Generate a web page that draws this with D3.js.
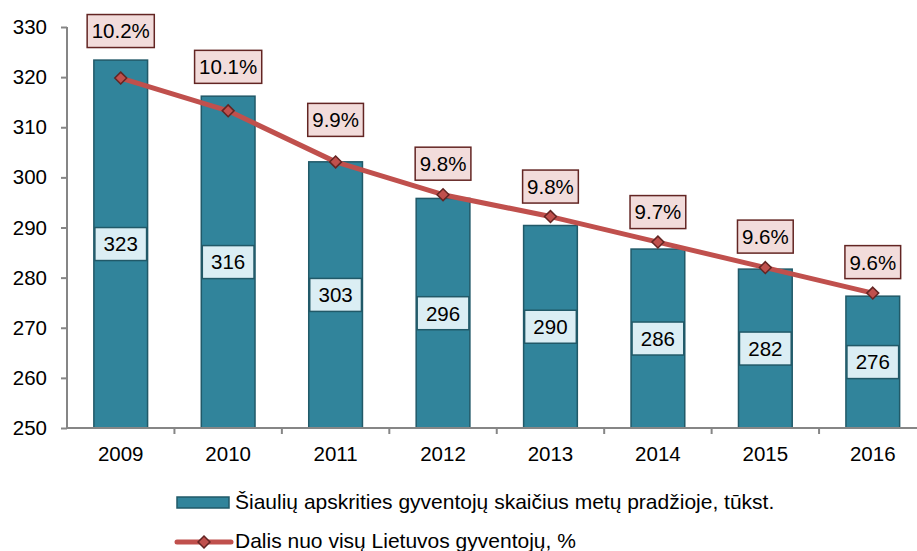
<!DOCTYPE html>
<html>
<head>
<meta charset="utf-8">
<script src="https://cdn.jsdelivr.net/npm/d3@7"></script>
<style>
	body { margin: 0; background: #fff; }
	svg { display: block; font-family: "Liberation Sans", Arial, sans-serif; }
</style>
</head>
<body>
<script>
var years = ["2009", "2010", "2011", "2012", "2013", "2014", "2015", "2016"];
var population = [323.4, 316.2, 303.1, 295.8, 290.4, 285.7, 281.7, 276.3];
var share = [10.16, 10.07, 9.93, 9.84, 9.78, 9.71, 9.64, 9.57];
var yTicks = [250, 260, 270, 280, 290, 300, 310, 320, 330];
var barLegend = "Šiaulių apskrities gyventojų skaičius metų pradžioje, tūkst.";
var lineLegend = "Dalis nuo visų Lietuvos gyventojų, %";

// how far above each point its % label sits (labels were nudged off the bars)
var labelLift = [47, 44, 42, 31, 30, 30, 31, 31];

var width = 917, height = 551;
var margin = {top: 27, left: 67, bottom: 428, right: 926.5};
var fontSize = 20.5;

var svg = d3.select("body").append("svg")
	.attr("width", width)
	.attr("height", height);

var x = d3.scaleBand()
	.domain(years)
	.range([margin.left, margin.right])
	.paddingInner(0.5)
	.paddingOuter(0.25);

var y = d3.scaleLinear()
	.domain([250, 330])
	.range([margin.bottom, margin.top]);

// hidden secondary axis for the share line
var y2 = d3.scaleLinear()
	.domain([9.2, 10.3])
	.range([margin.bottom, margin.top]);

var axisColor = "#868686";

// y axis
var yAxis = svg.append("g")
	.attr("transform", "translate(" + margin.left + ",0)")
	.call(d3.axisLeft(y).tickValues(yTicks).tickSize(6).tickPadding(14).tickFormat(d3.format("d")));
yAxis.select(".domain").attr("stroke", axisColor).attr("stroke-width", 2).attr("d", "M0," + margin.bottom + "V" + margin.top);
yAxis.selectAll(".tick line").attr("stroke", axisColor).attr("stroke-width", 2);
yAxis.selectAll(".tick text").attr("font-size", fontSize).attr("fill", "#000").attr("font-family", "Liberation Sans, Arial, sans-serif");

// bars
svg.append("g").selectAll("rect")
	.data(population)
	.enter().append("rect")
	.attr("x", function(d, i) { return x(years[i]); })
	.attr("y", function(d) { return y(d); })
	.attr("width", x.bandwidth())
	.attr("height", function(d) { return y(250) - y(d); })
	.attr("fill", "#31849B")
	.attr("stroke", "#215968")
	.attr("stroke-width", 1.5);

// x axis
var xAxis = svg.append("g");
xAxis.append("line")
	.attr("x1", margin.left).attr("x2", width)
	.attr("y1", margin.bottom).attr("y2", margin.bottom)
	.attr("stroke", axisColor).attr("stroke-width", 2);
xAxis.selectAll(".xtick")
	.data(years.slice(1))
	.enter().append("line")
	.attr("x1", function(d) { return x(d) - x.bandwidth() * 0.5; })
	.attr("x2", function(d) { return x(d) - x.bandwidth() * 0.5; })
	.attr("y1", margin.bottom).attr("y2", margin.bottom + 6)
	.attr("stroke", axisColor).attr("stroke-width", 2);
xAxis.selectAll("text")
	.data(years)
	.enter().append("text")
	.attr("x", function(d) { return x(d) + x.bandwidth() / 2; })
	.attr("y", 461)
	.attr("text-anchor", "middle")
	.attr("font-size", fontSize)
	.text(function(d) { return d; });

// value boxes in the middle of the bars
var valueLabels = svg.append("g").selectAll("g")
	.data(population)
	.enter().append("g")
	.attr("transform", function(d, i) {
		var cx = x(years[i]) + x.bandwidth() / 2;
		var cy = (y(d) + y(250)) / 2;
		return "translate(" + cx + "," + cy + ")";
	});
valueLabels.append("rect")
	.attr("x", -(x.bandwidth() - 2) / 2)
	.attr("y", -16.5)
	.attr("width", x.bandwidth() - 2)
	.attr("height", 33)
	.attr("fill", "#DBEEF4")
	.attr("stroke", "#215968")
	.attr("stroke-width", 1.5);
valueLabels.append("text")
	.attr("text-anchor", "middle")
	.attr("dy", "0.36em")
	.attr("font-size", fontSize)
	.text(function(d) { return Math.round(d); });

// share line
var line = d3.line()
	.x(function(d, i) { return x(years[i]) + x.bandwidth() / 2; })
	.y(function(d) { return y2(d); });

svg.append("path")
	.datum(share)
	.attr("d", line)
	.attr("fill", "none")
	.attr("stroke", "#C0504D")
	.attr("stroke-width", 5)
	.attr("stroke-linejoin", "round");

var diamond = d3.symbol().type(d3.symbolDiamond2).size(90);

svg.append("g").selectAll("path")
	.data(share)
	.enter().append("path")
	.attr("d", diamond)
	.attr("transform", function(d, i) {
		return "translate(" + (x(years[i]) + x.bandwidth() / 2) + "," + y2(d) + ")";
	})
	.attr("fill", "#C0504D")
	.attr("stroke", "#632523")
	.attr("stroke-width", 1.5);

// % labels
var shareLabels = svg.append("g").selectAll("g")
	.data(share)
	.enter().append("g")
	.attr("transform", function(d, i) {
		var cx = x(years[i]) + x.bandwidth() / 2;
		return "translate(" + cx + "," + (y2(d) - labelLift[i]) + ")";
	});
shareLabels.append("text")
	.attr("text-anchor", "middle")
	.attr("dy", "0.36em")
	.attr("font-size", fontSize)
	.text(function(d) { return d.toFixed(1) + "%"; });
shareLabels.insert("rect", "text")
	.each(function() {
		var w = this.parentNode.querySelector("text").getComputedTextLength() + 9;
		d3.select(this)
			.attr("x", -w / 2)
			.attr("y", -16.5)
			.attr("width", w)
			.attr("height", 33);
	})
	.attr("fill", "#F2DCDB")
	.attr("stroke", "#632523")
	.attr("stroke-width", 1.5);

// legend
var legend = svg.append("g");
legend.append("rect")
	.attr("x", 177).attr("y", 497)
	.attr("width", 52).attr("height", 11)
	.attr("fill", "#31849B")
	.attr("stroke", "#215968")
	.attr("stroke-width", 1.5);
legend.append("text")
	.attr("x", 235).attr("y", 509)
	.attr("font-size", 21)
	.text(barLegend);

legend.append("line")
	.attr("x1", 177).attr("x2", 231)
	.attr("y1", 542).attr("y2", 542)
	.attr("stroke", "#C0504D")
	.attr("stroke-width", 5)
	.attr("stroke-linecap", "round");
legend.append("path")
	.attr("d", diamond)
	.attr("transform", "translate(204,542)")
	.attr("fill", "#C0504D")
	.attr("stroke", "#632523")
	.attr("stroke-width", 1.5);
legend.append("text")
	.attr("x", 235).attr("y", 548)
	.attr("font-size", 21)
	.text(lineLegend);
</script>
</body>
</html>
